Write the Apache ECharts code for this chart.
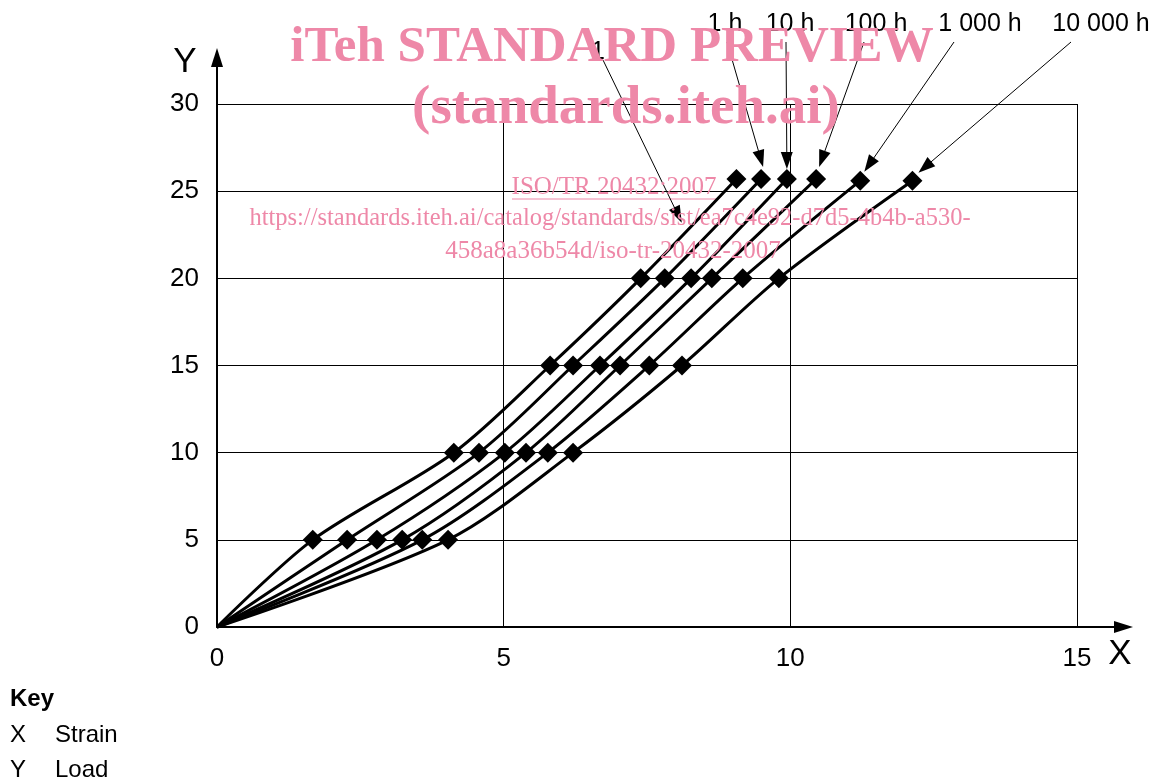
<!DOCTYPE html>
<html><head><meta charset="utf-8">
<script src="https://cdn.jsdelivr.net/npm/echarts@6/dist/echarts.min.js"></script>
<style>html,body{margin:0;padding:0;background:#fff}#c{width:1157px;height:780px}</style>
</head><body><div id="c"></div>
<script>
// ---- data ----
const xMin = 0, xMax = 15, xStep = 5;
const yMin = 0, yMax = 30, yStep = 5;
const curveLabels = ['1', '1 h', '10 h', '100 h', '1 000 h', '10 000 h'];
const strainA = [0, 1.67, 4.13, 5.81, 7.39, 9.06];
const loadA   = [0, 5, 10, 15, 20, 25.7];
const strainB = [0, 2.27, 4.57, 6.21, 7.81, 9.49];
const loadB   = [0, 5, 10, 15, 20, 25.7];
const strainC = [0, 2.79, 5.02, 6.68, 8.27, 9.94];
const loadC   = [0, 5, 10, 15, 20, 25.7];
const strainD = [0, 3.23, 5.39, 7.03, 8.63, 10.45];
const loadD   = [0, 5, 10, 15, 20, 25.7];
const strainE = [0, 3.58, 5.77, 7.54, 9.17, 11.22];
const loadE   = [0, 5, 10, 15, 20, 25.6];
const strainF = [0, 4.03, 6.21, 8.11, 9.80, 12.13];
const loadF   = [0, 5, 10, 15, 20, 25.6];
const keyItems = [['X', 'Strain'], ['Y', 'Load']];
const watermark = ['iTeh STANDARD PREVIEW', '(standards.iteh.ai)', 'ISO/TR 20432:2007',
  'https://standards.iteh.ai/catalog/standards/sist/ea7c4e92-d7d5-4b4b-a530-',
  '458a8a36b54d/iso-tr-20432-2007'];

const curves = [[strainA, loadA], [strainB, loadB], [strainC, loadC], [strainD, loadD], [strainE, loadE], [strainF, loadF]];

// ---- chart ----
const SANS = '"Liberation Sans", Arial, sans-serif';
const SERIF = '"Liberation Serif", "Times New Roman", serif';
const chart = echarts.init(document.getElementById('c'), null, {renderer: 'canvas'});

const series = curves.map((c, i) => ({
  type: 'line',
  name: curveLabels[i],
  smooth: 0.3,
  symbol: 'diamond',
  symbolSize: 20,
  showAllSymbol: true,
  clip: false,
  lineStyle: {color: '#000', width: 3},
  itemStyle: {color: '#000'},
  z: 5,
  data: c[0].map((x, j) => c[1][j] === 0 ? {value: [x, c[1][j]], symbol: 'none'} : [x, c[1][j]])
}));

chart.setOption({
  animation: false,
  backgroundColor: '#fff',
  grid: {left: 217, right: 80, top: 104, bottom: 153},
  xAxis: {
    type: 'value', min: xMin, max: xMax, interval: xStep,
    axisLine: {show: true, lineStyle: {color: '#000', width: 2}},
    axisTick: {show: false},
    axisLabel: {color: '#000', fontSize: 26, fontFamily: SANS, margin: 19},
    splitLine: {show: true, lineStyle: {color: '#000', width: 1}}
  },
  yAxis: {
    type: 'value', min: yMin, max: yMax, interval: yStep,
    axisLine: {show: true, lineStyle: {color: '#000', width: 2}},
    axisTick: {show: false},
    axisLabel: {color: '#000', fontSize: 26, fontFamily: SANS, margin: 18},
    splitLine: {show: true, lineStyle: {color: '#000', width: 1}}
  },
  series: series
});

// ---- decorations computed from the axes ----
const px = (x, y) => chart.convertToPixel({gridIndex: 0}, [x, y]);
const g = [];
function arrowHead(x1, y1, x2, y2, len, half) {
  const dx = x2 - x1, dy = y2 - y1, L = Math.hypot(dx, dy);
  const ux = dx / L, uy = dy / L;
  const bx = x2 - ux * len, by = y2 - uy * len;
  return {type: 'polygon', z: 20, shape: {points: [[x2, y2], [bx - uy * half, by + ux * half], [bx + uy * half, by - ux * half]]}, style: {fill: '#000'}};
}
function arrowLine(x1, y1, x2, y2, w, len, half) {
  const dx = x2 - x1, dy = y2 - y1, L = Math.hypot(dx, dy);
  const ex = x2 - dx / L * (len * 0.8), ey = y2 - dy / L * (len * 0.8);
  g.push({type: 'line', z: 20, shape: {x1: x1, y1: y1, x2: ex, y2: ey}, style: {stroke: '#000', lineWidth: w}});
  g.push(arrowHead(x1, y1, x2, y2, len, half));
}
const o = px(xMin, yMin), xe = px(xMax, yMin), ye = px(xMin, yMax);
// axes with arrows
arrowLine(o[0], o[1], xe[0] + 56, o[1], 2, 19, 6);
arrowLine(o[0], o[1], o[0], ye[1] - 56, 2, 19, 6);
// axis names
function txt(t, x, y, font, align, valign, fill, extra) {
  const e = {type: 'text', z: 30, x: x, y: y, style: Object.assign({text: t, font: font, fill: fill || '#000', textAlign: align, textVerticalAlign: valign, align: align, verticalAlign: valign}, extra || {})};
  g.push(e);
}
txt('X', xe[0] + 43, o[1] + 27, '35px ' + SANS, 'center', 'middle');
txt('Y', o[0] - 32, ye[1] - 42, '35px ' + SANS, 'center', 'middle');

// curve annotations: label position and arrow start, arrow tip relative to curve end point
const ann = [
  {c: 0, lx: 598, ly: 52, sx: 603, sy: 60, tip: 'mid'},
  {c: 1, lx: 725, ly: 24, sx: 727, sy: 42, dx: 2, dy: -12},
  {c: 2, lx: 790, ly: 24, sx: 786, sy: 42, dx: 0, dy: -10},
  {c: 3, lx: 876, ly: 24, sx: 864, sy: 42, dx: 3, dy: -12},
  {c: 4, lx: 980, ly: 24, sx: 954, sy: 42, dx: 4, dy: -9},
  {c: 5, lx: 1101, ly: 24, sx: 1071, sy: 42, dx: 6, dy: -8}
];
ann.forEach(a => {
  const s = curves[a.c][0], l = curves[a.c][1], n = s.length - 1;
  let tx, ty;
  if (a.tip === 'mid') {
    const p1 = px(s[n - 1], l[n - 1]), p2 = px(s[n], l[n]);
    tx = p1[0] + (p2[0] - p1[0]) * 0.45 - 2; ty = p1[1] + (p2[1] - p1[1]) * 0.56;
  } else {
    const p = px(s[n], l[n]);
    tx = p[0] + a.dx; ty = p[1] + a.dy;
  }
  txt(curveLabels[a.c], a.lx, a.ly, '25px ' + SANS, 'center', 'middle');
  arrowLine(a.sx, a.sy, tx, ty, 1, 17, 6);
});

// key
txt('Key', 10, 699, 'bold 24px ' + SANS, 'left', 'middle');
keyItems.forEach((k, i) => {
  txt(k[0], 10, 735 + i * 35, '24px ' + SANS, 'left', 'middle');
  txt(k[1], 55, 735 + i * 35, '24px ' + SANS, 'left', 'middle');
});

// watermark
const pink = '#ee88a8';
const wm = {blend: 'multiply'};
txt(watermark[0], 612, 48, 'bold 51px ' + SERIF, 'center', 'middle', pink, wm);
txt(watermark[1], 626, 109, 'bold 55px ' + SERIF, 'center', 'middle', pink, wm);
txt(watermark[2], 614, 187, '25px ' + SERIF, 'center', 'middle', pink, wm);
g.push({type: 'line', z: 30, shape: {x1: 512, y1: 199, x2: 716, y2: 199}, style: {stroke: pink, lineWidth: 1.2, blend: 'multiply'}});
txt(watermark[3], 610, 219, '24.5px ' + SERIF, 'center', 'middle', pink, wm);
txt(watermark[4], 613, 251, '25px ' + SERIF, 'center', 'middle', pink, wm);

chart.setOption({graphic: {elements: g}});
</script></body></html>
